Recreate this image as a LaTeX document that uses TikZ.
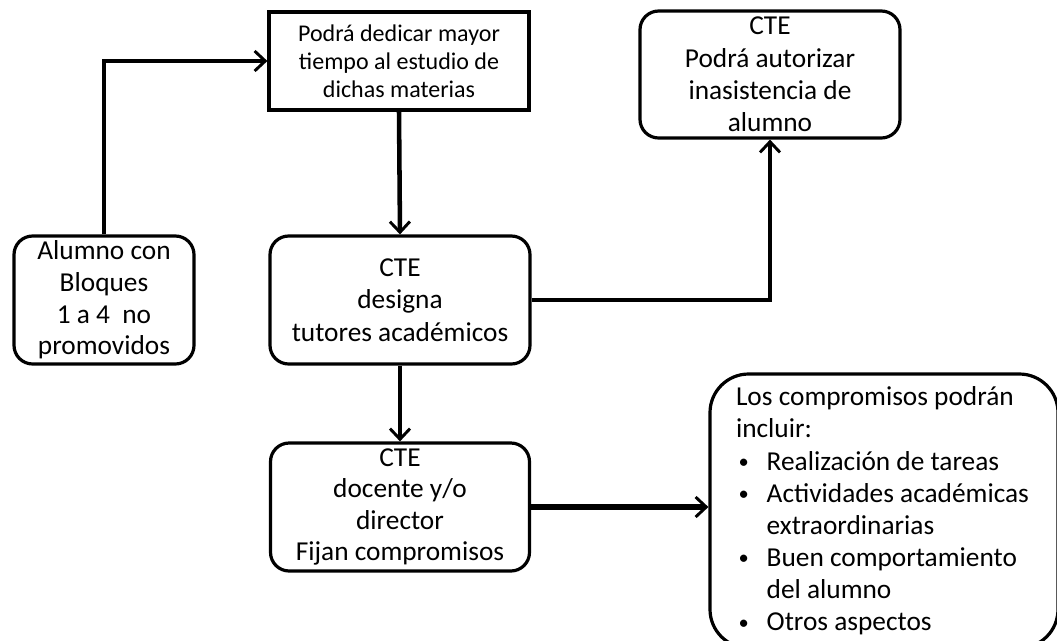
\documentclass[tikz,border=0pt]{standalone}
\usepackage{fontspec}
\setmainfont{Carlito}
\usetikzlibrary{arrows.meta}
\newcommand{\mybul}{\makebox[23pt][l]{\hspace*{2pt}\raisebox{1.2pt}{\scalebox{0.75}{\textbullet}}}}
\begin{document}
\begin{tikzpicture}[x=0.75pt,y=-0.75pt,
  base/.style={draw=black, line width=2.4pt, align=center, inner sep=0pt,
     font=\fontsize{20.5}{24.2}\selectfont},
  sqbox/.style={base, minimum width=195pt, minimum height=73.5pt,
     font=\fontsize{18}{21}\selectfont},
  rbox/.style={base, rounded corners=14pt},
  conn/.style={draw=black, line width=2.4pt, -{Straight Barb[length=8pt,width=15pt,line width=2.2pt]}},
  thick conn/.style={conn, line width=3.4pt}
]
\useasboundingbox (0,0) rectangle (1057,640);
\clip (0,0) rectangle (1057,640);

\node[sqbox] (top) at (399,61) {Podrá dedicar mayor\\tiempo al estudio de\\dichas materias};
\node[rbox, minimum width=195pt, minimum height=95.25pt] (auth) at (770,74.5)
  {CTE\\Podrá autorizar\\inasistencia de\\alumno};
\node[rbox, minimum width=135pt, minimum height=96pt, font=\fontsize{20.5}{23.8}\selectfont] (alum) at (104,300)
  {Alumno con\\Bloques\\1 a 4~~no\\promovidos};
\node[rbox, minimum width=195pt, minimum height=96pt] (tut) at (400,300)
  {CTE\\designa\\tutores académicos};
\node[rbox, minimum width=194.25pt, minimum height=96pt, font=\fontsize{20.5}{23.6}\selectfont] (fij) at (400,507)
  {CTE\\docente y/o\\director\\Fijan compromisos};
\node[base, rounded corners=29pt, minimum width=261pt, minimum height=205.5pt,
      align=flush left, text width=222pt, inner xsep=19.5pt, font=\fontsize{20.5}{24.1}\selectfont] (comp) at (884,511)
  {Los compromisos podrán\\
   incluir:\\
   \mybul Realización de tareas\\
   \mybul Actividades académicas\\
   \hspace*{23pt}extraordinarias\\
   \mybul Buen comportamiento\\
   \hspace*{23pt}del alumno\\
   \mybul Otros aspectos};

\draw[conn] (alum.north) |- (top.west);
\draw[thick conn] (top.south) -- (tut.north);
\draw[conn] (tut.east) -| (auth.south);
\draw[thick conn] (tut.south) -- (fij.north);
\draw[thick conn, line width=4pt] (fij.east) -- (fij.east -| comp.west);
\end{tikzpicture}
\end{document}
